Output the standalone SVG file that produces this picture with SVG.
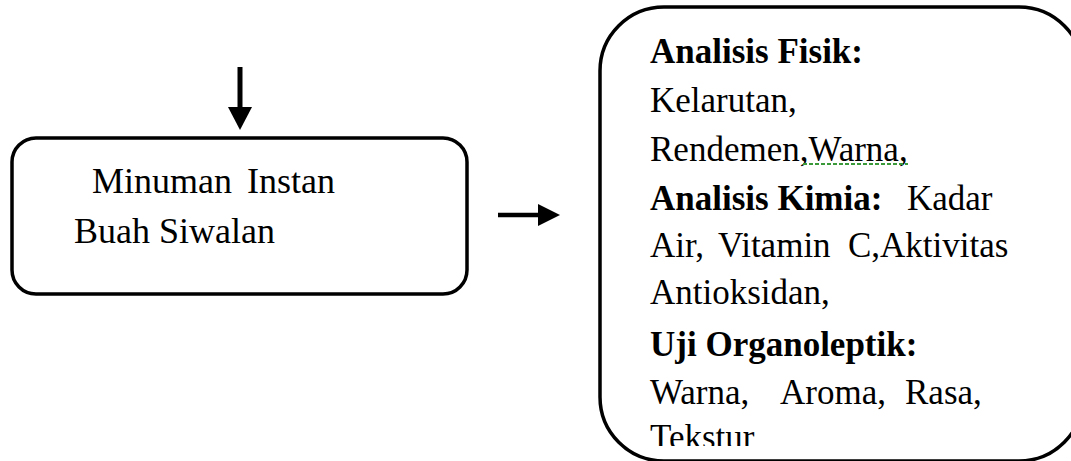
<svg xmlns="http://www.w3.org/2000/svg" width="1071" height="461" viewBox="0 0 1071 461">
<style>
.box{fill:#fff;stroke:#000;stroke-width:3.5}
.t{font-family:"Liberation Serif","Times New Roman",serif;font-size:35px;fill:#000}
.b{font-weight:bold}
.conn{stroke:#000;stroke-width:5;fill:none}
</style>
<defs>
<clipPath id="clipLast"><rect x="600" y="0" width="471" height="446"/></clipPath>
</defs>
<rect width="1071" height="461" fill="#fff"/>
<g id="connectors">
<line class="conn" x1="240" y1="67" x2="240" y2="110"/>
<polygon points="228,107 252,107 240,130" fill="#000"/>
<line class="conn" x1="498" y1="215" x2="540" y2="215" style="stroke-width:4.5"/>
<polygon points="538,204 538,226 560,215" fill="#000"/>
</g>
<g id="node-minuman">
<rect class="box" x="12" y="138" width="455" height="156" rx="24" ry="24"/>
<text class="t" style="font-size:36px" x="92" y="193">Minuman<tspan x="247">Instan</tspan></text>
<text class="t" style="font-size:36px" x="74" y="243">Buah Siwalan</text>
</g>
<g id="node-analisis">
<rect class="box" x="600" y="7" width="483" height="454" rx="64" ry="64"/>
<text class="t b" x="650" y="63">Analisis Fisik:</text>
<text class="t" x="650" y="112">Kelarutan,</text>
<text class="t" x="650" y="161">Rendemen,Warna,</text>
<line x1="803" y1="164" x2="908" y2="164" stroke="#3a9a3a" stroke-width="2" stroke-dasharray="4,2"/>
<text class="t" x="650" y="210"><tspan class="b">Analisis Kimia:</tspan><tspan x="907">Kadar</tspan></text>
<text class="t" x="650" y="257">Air,<tspan x="718">Vitamin</tspan><tspan x="848">C,Aktivitas</tspan></text>
<text class="t" x="650" y="304">Antioksidan,</text>
<text class="t b" x="650" y="356">Uji Organoleptik:</text>
<text class="t" x="650" y="404">Warna,<tspan x="780">Aroma,</tspan><tspan x="905">Rasa,</tspan></text>
<text class="t" x="650" y="449" clip-path="url(#clipLast)">Tekstur</text>
</g>
</svg>
